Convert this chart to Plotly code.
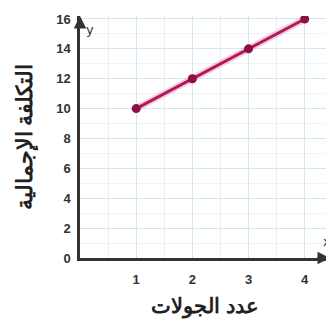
import plotly.graph_objects as go

rounds = [1, 2, 3, 4]
total_cost = [10, 12, 14, 16]
x_ticks = [1, 2, 3, 4]
y_ticks = [0, 2, 4, 6, 8, 10, 12, 14, 16]
x_title = "عدد الجولات"
y_title = "التكلفة الإجمالية"

fig = go.Figure()
fig.add_trace(go.Scatter(
    x=rounds, y=total_cost, mode="lines",
    line=dict(color="rgba(230,120,170,0.35)", width=7),
    hoverinfo="skip", showlegend=False))
fig.add_trace(go.Scatter(
    x=rounds, y=total_cost, mode="lines+markers",
    line=dict(color="#b3185a", width=3),
    marker=dict(color="#8c0f45", size=9),
    showlegend=False))

axis_color = "#333333"
tick_font = dict(size=13, family="Liberation Sans", color="#333", weight="bold")
# the page adds an 8px body margin, so the figure is 8px smaller than the window
fig.update_layout(
    width=326, height=314,
    margin=dict(l=72, r=4, t=8, b=64),
    plot_bgcolor="white", paper_bgcolor="white",
    font=dict(family="DejaVu Sans", color="#333333"),
    xaxis=dict(
        range=[0, 4.45], tickvals=x_ticks, ticks="", showline=True,
        linecolor=axis_color, linewidth=2.5, zeroline=False, automargin=False,
        showgrid=True, gridcolor="#d6e6f0", gridwidth=1,
        minor=dict(dtick=0.5, showgrid=True, gridcolor="#e6f0f6"),
        tickfont=tick_font, ticklabelstandoff=8,
        title=dict(text=f"<b>{x_title}</b>", font=dict(size=21, family="Noto Sans", color="#222"), standoff=12),
    ),
    yaxis=dict(
        range=[0, 16.2], tickvals=y_ticks, ticks="", showline=True,
        linecolor=axis_color, linewidth=2.5, zeroline=False, automargin=False,
        showgrid=True, gridcolor="#d6e6f0", gridwidth=1,
        minor=dict(dtick=1, showgrid=True, gridcolor="#eef4f8"),
        tickfont=tick_font, ticklabelstandoff=4,
        title=dict(text=f"<b>{y_title}</b>", font=dict(size=22, family="Noto Sans", color="#222"), standoff=18),
    ),
)

# axis arrows and letters
fig.add_annotation(x=0, y=16.2, ax=0, ay=15.3, xref="x", yref="y", axref="x", ayref="y",
                   showarrow=True, arrowhead=2, arrowsize=1, arrowwidth=2.5, arrowcolor=axis_color, text="")
fig.add_annotation(x=4.45, y=0, ax=4.2, ay=0, xref="x", yref="y", axref="x", ayref="y",
                   showarrow=True, arrowhead=2, arrowsize=1, arrowwidth=2.5, arrowcolor=axis_color, text="")
fig.add_annotation(x=0.08, y=15.3, xref="x", yref="y", text="y", showarrow=False,
                   xanchor="left", font=dict(size=13, color="#333"))
fig.add_annotation(x=4.39, y=0.5, xref="x", yref="y", text="x", showarrow=False,
                   yanchor="bottom", font=dict(size=13, color="#333"))

fig.write_html("out.html")
